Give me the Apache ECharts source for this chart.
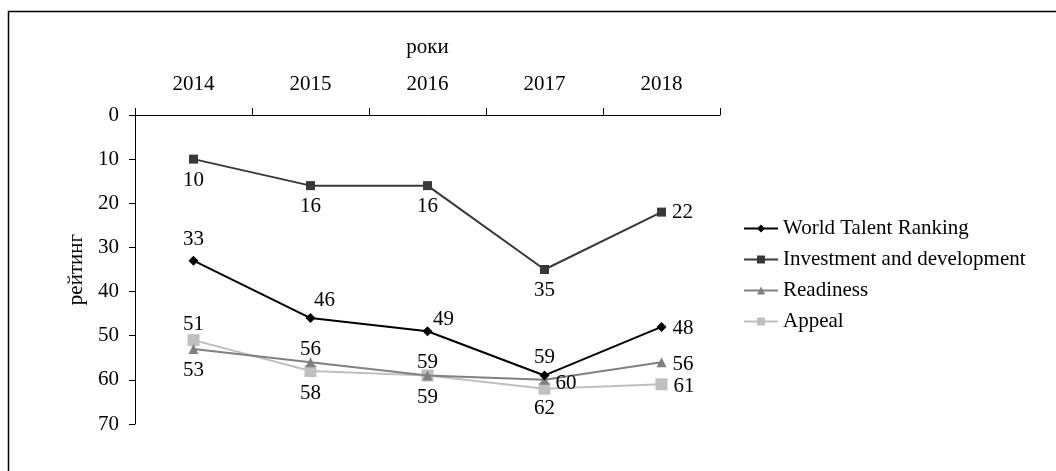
<!DOCTYPE html>
<html>
<head>
<meta charset="utf-8">
<script src="https://cdn.jsdelivr.net/npm/echarts@6/dist/echarts.min.js"></script>
<style>
  html, body { margin: 0; padding: 0; background: #fff; }
  #box { width: 1056px; height: 471px; }
</style>
</head>
<body>
<div id="box"></div>
<script>
// роки
var years = ["2014", "2015", "2016", "2017", "2018"];
// рейтинг по рядах
var talentRanking = [33, 46, 49, 59, 48];
var investment = [10, 16, 16, 35, 22];
var readiness = [53, 56, 59, 60, 56];
var appeal = [51, 58, 59, 62, 61];
var yTicks = [0, 10, 20, 30, 40, 50, 60, 70];

var font = "Liberation Serif";
var fs = 21;

// позиції підписів біля точок
function withLabels(values, positions, offsets) {
  return values.map(function (v, i) {
    var lbl = { position: positions[i] };
    if (offsets && offsets[i]) lbl.offset = offsets[i];
    return { value: v, label: lbl };
  });
}

var chart = echarts.init(document.getElementById("box"));
var option = {
  backgroundColor: "#fff",
  animation: false,
  textStyle: { fontFamily: font, fontSize: fs, color: "#000" },
  graphic: [
    {
      type: "rect",
      shape: { x: 8.5, y: 11.5, width: 1200, height: 600 },
      style: { fill: "none", stroke: "#000", lineWidth: 1.5 },
      silent: true,
    },
  ],
  grid: { left: 135, top: 115, width: 585, height: 309 },
  legend: {
    orient: "vertical",
    left: 738,
    top: 213,
    itemWidth: 34,
    itemHeight: 10,
    itemGap: 10,
    textStyle: { fontFamily: font, fontSize: fs, color: "#000" },
    data: ["World Talent Ranking", "Investment and development", "Readiness", "Appeal"],
  },
  xAxis: {
    type: "category",
    position: "top",
    data: years,
    boundaryGap: true,
    name: "роки",
    nameLocation: "middle",
    nameGap: 57,
    nameTextStyle: { fontFamily: font, fontSize: fs, color: "#000" },
    axisLine: { lineStyle: { color: "#000", width: 1 } },
    axisTick: { show: true, length: 7, inside: false, lineStyle: { color: "#000" } },
    axisLabel: { margin: 20, fontFamily: font, fontSize: fs, color: "#000" },
    splitLine: { show: false },
  },
  yAxis: {
    type: "value",
    inverse: true,
    min: yTicks[0],
    max: yTicks[yTicks.length - 1],
    interval: 10,
    name: "рейтинг",
    nameLocation: "middle",
    nameGap: 48,
    nameRotate: 90,
    nameTextStyle: { fontFamily: font, fontSize: fs, color: "#000" },
    axisLine: { show: true, lineStyle: { color: "#000", width: 1 } },
    axisTick: { show: true, length: 6, lineStyle: { color: "#000" } },
    axisLabel: { margin: 16, fontFamily: font, fontSize: fs, color: "#000" },
    splitLine: { show: false },
  },
  series: [
    {
      name: "Appeal",
      type: "line",
      data: withLabels(
        appeal,
        ["top", "bottom", "bottom", "bottom", "right"],
        [[0, 7], null, null, [0, -3], [0, 2]]
      ),
      symbol: "rect",
      symbolSize: 12,
      z: 2,
      itemStyle: { color: "#bfbfbf" },
      lineStyle: { color: "#bfbfbf", width: 2 },
      label: { show: true, distance: 6, fontFamily: font, fontSize: fs, color: "#000" },
    },
    {
      name: "Readiness",
      type: "line",
      data: withLabels(
        readiness,
        ["bottom", "top", "top", "right", "right"],
        [null, [0, 9], [0, 9], [0, 4], [0, 2]]
      ),
      symbol: "triangle",
      symbolSize: 10,
      z: 3,
      itemStyle: { color: "#808080" },
      lineStyle: { color: "#808080", width: 2 },
      label: { show: true, distance: 6, fontFamily: font, fontSize: fs, color: "#000" },
    },
    {
      name: "Investment and development",
      type: "line",
      data: withLabels(investment, ["bottom", "bottom", "bottom", "bottom", "right"]),
      symbol: "rect",
      symbolSize: 9,
      z: 4,
      itemStyle: { color: "#383838" },
      lineStyle: { color: "#383838", width: 2 },
      label: { show: true, distance: 6, fontFamily: font, fontSize: fs, color: "#000" },
    },
    {
      name: "World Talent Ranking",
      type: "line",
      data: withLabels(
        talentRanking,
        ["top", "top", "top", "top", "right"],
        [null, [14, 4], [16, 10], [0, 4], [0, 2]]
      ),
      symbol: "diamond",
      symbolSize: 10,
      z: 5,
      itemStyle: { color: "#000" },
      lineStyle: { color: "#000", width: 2 },
      label: { show: true, distance: 6, fontFamily: font, fontSize: fs, color: "#000" },
    },
  ],
};
chart.setOption(option);
</script>
</body>
</html>
